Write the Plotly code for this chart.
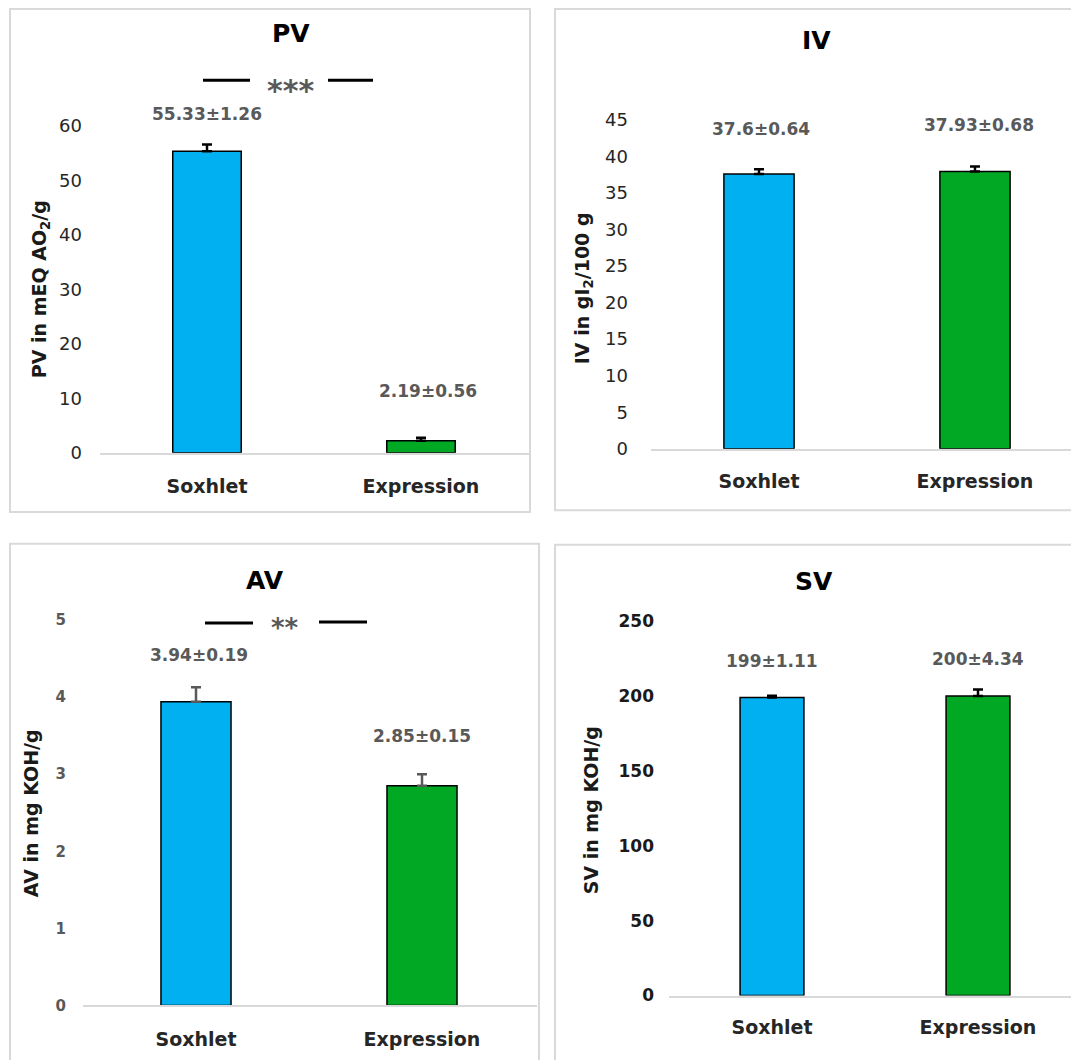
import plotly.graph_objects as go

W, H = 1071, 1060

# ---------------- data ----------------
categories = ["Soxhlet", "Expression"]
pv_mean = [55.33, 2.19]
pv_sd = [1.26, 0.56]
iv_mean = [37.6, 37.93]
iv_sd = [0.64, 0.68]
av_mean = [3.94, 2.85]
av_sd = [0.19, 0.15]
sv_mean = [199, 200]
sv_sd = [1.11, 4.34]
pv_ticks = [0, 10, 20, 30, 40, 50, 60]
iv_ticks = [0, 5, 10, 15, 20, 25, 30, 35, 40, 45]
av_ticks = [0, 1, 2, 3, 4, 5]
sv_ticks = [0, 50, 100, 150, 200, 250]
titles = ["PV", "IV", "AV", "SV"]
ytitles = ["PV in mEQ AO<sub>2</sub>/g", "IV in gI<sub>2</sub>/100 g",
           "AV in mg KOH/g", "SV in mg KOH/g"]
signif = ["***", None, "**", None]

bar_colors = ["#00B0F0", "#00A823"]
FONT = "DejaVu Sans"


def px(x):
    return x / W


def py(y):
    return 1 - y / H


# layout geometry per panel (pixels)
panels = [
    dict(mean=pv_mean, sd=pv_sd, ticks=pv_ticks, x0=100, x1=529, sp=214, y0=457, ytp=127, ytop=14,
         bw=0.32, title=(291, 34), ytitle=(40, 292), laby=[115, 395], labdx=[0, 7],
         tickfont=dict(size=18, color="#262626", family=FONT), tstand=17, xlab_stand=16,
         ecol="black", br=[(203, 250, 81), (328, 373, 81)], star=(290, 91, 30), border=(10, 9, 530, 517)),
    dict(mean=iv_mean, sd=iv_sd, ticks=iv_ticks, x0=651, x1=1071, sp=216, y0=453, ytp=121, ytop=14,
         bw=0.325, title=(816, 41), ytitle=(583, 291), laby=[130, 126], labdx=[2, 4],
         tickfont=dict(size=18, color="#262626", family=FONT), tstand=22, xlab_stand=15,
         ecol="black", br=None, star=None, border=(555, 9, 1080, 515)),
    dict(mean=av_mean, sd=av_sd, ticks=av_ticks, x0=83, x1=537, sp=226, y0=1015, ytp=626, ytop=553,
         bw=0.31, title=(265, 586), ytitle=(31, 821), laby=[661, 743], labdx=[3, 0],
         tickfont=dict(size=15, color="#595959", family=FONT, weight="bold"), tstand=16, xlab_stand=16,
         ecol="#595959", br=[(205, 253, 629), (319, 367, 628)], star=(285, 634, 26), border=(10, 549, 539, 1075)),
    dict(mean=sv_mean, sd=sv_sd, ticks=sv_ticks, x0=669, x1=1071, sp=206, y0=1005, ytp=627, ytop=553,
         bw=0.31, title=(814, 587), ytitle=(591, 818), laby=[667, 665], labdx=[0, 0],
         tickfont=dict(size=17, color="#1a1a1a", family=FONT, weight="bold"), tstand=14, xlab_stand=14,
         ecol="black", br=None, star=None, border=(555, 550, 1080, 1075)),
]

fig = go.Figure()
annotations = []
shapes = []

for i, p in enumerate(panels):
    n = "" if i == 0 else str(i + 1)
    xa, ya = "x" + n, "y" + n
    fig.add_trace(go.Bar(
        x=categories, y=p["mean"], xaxis=xa, yaxis=ya, width=p["bw"],
        marker=dict(color=bar_colors, line=dict(color="black", width=1.5)),
        error_y=dict(type="data", array=p["sd"], arrayminus=[0, 0], symmetric=False,
                     visible=True, color=p["ecol"], thickness=2.5, width=5),
        cliponaxis=False,
    ))
    ppu = (p["y0"] - p["ytp"]) / p["ticks"][-1]
    ymax = (p["y0"] - p["ytop"]) / ppu
    xr_end = -0.5 + (p["x1"] - p["x0"]) / p["sp"]
    fig.layout["xaxis" + n] = dict(
        domain=[px(p["x0"]), px(p["x1"])], range=[-0.5, xr_end], anchor=ya,
        type="category", showline=True, linecolor="#D9D9D9", linewidth=1.5,
        showgrid=False, ticks="", zeroline=False, fixedrange=True,
        tickfont=dict(size=19, color="#262626", family=FONT, weight="bold"),
        ticklabelstandoff=p["xlab_stand"],
    )
    fig.layout["yaxis" + n] = dict(
        domain=[py(p["y0"]), py(p["ytop"])], range=[0, ymax], anchor=xa,
        tickvals=p["ticks"], showgrid=False, showline=False, zeroline=False,
        ticks="", tickfont=p["tickfont"], ticklabelstandoff=p["tstand"], fixedrange=True,
    )
    # title
    annotations.append(dict(x=px(p["title"][0]), y=py(p["title"][1]), xref="paper", yref="paper",
                            text="<b>%s</b>" % titles[i], showarrow=False,
                            font=dict(size=25, color="black", family=FONT),
                            xanchor="center", yanchor="middle"))
    # y title
    annotations.append(dict(x=px(p["ytitle"][0]), y=py(p["ytitle"][1]), xref="paper", yref="paper",
                            text="<b>%s</b>" % ytitles[i], showarrow=False, textangle=-90,
                            font=dict(size=19, color="#1a1a1a", family=FONT),
                            xanchor="center", yanchor="middle"))
    # value labels (anchored on each category)
    for j in range(2):
        annotations.append(dict(x=categories[j], y=py(p["laby"][j]), xref=xa, yref="paper",
                                xshift=p["labdx"][j],
                                text="<b>%g\u00b1%g</b>" % (p["mean"][j], p["sd"][j]), showarrow=False,
                                font=dict(size=17, color="#595959", family=FONT),
                                xanchor="center", yanchor="middle"))
    # significance bracket
    if p["br"]:
        for (xa0, xa1, yy) in p["br"]:
            shapes.append(dict(type="line", xref="paper", yref="paper",
                               x0=px(xa0), x1=px(xa1), y0=py(yy), y1=py(yy),
                               line=dict(color="black", width=3)))
        annotations.append(dict(x=px(p["star"][0]), y=py(p["star"][1]), xref="paper", yref="paper",
                                text="<b>%s</b>" % signif[i], showarrow=False,
                                font=dict(size=p["star"][2], color="#595959", family=FONT),
                                xanchor="center", yanchor="middle"))
    # panel border
    b = p["border"]
    shapes.append(dict(type="rect", xref="paper", yref="paper",
                       x0=px(b[0]), x1=px(b[2]), y0=py(b[3]), y1=py(b[1]),
                       line=dict(color="#D9D9D9", width=2), fillcolor="rgba(0,0,0,0)"))

fig.update_layout(
    width=W, height=H, margin=dict(l=0, r=0, t=0, b=0),
    paper_bgcolor="white", plot_bgcolor="rgba(0,0,0,0)",
    showlegend=False, annotations=annotations, shapes=shapes,
    font=dict(family=FONT),
)

fig.write_html("out.html", config={"displayModeBar": False},
               post_script="document.body.style.margin='0px';document.body.style.overflow='hidden';")
